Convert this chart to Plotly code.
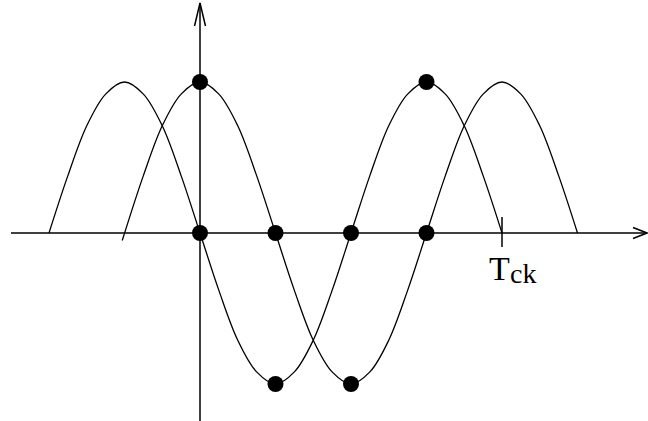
import plotly.graph_objects as go

# Waveform samples every sixteenth of a period (x in quarter-period units)
x_a = [-2, -1.75, -1.5, -1.25, -1, -0.75, -0.5, -0.25, 0, 0.25, 0.5, 0.75, 1,
       1.25, 1.5, 1.75, 2, 2.25, 2.5, 2.75, 3, 3.25, 3.5, 3.75, 4]
y_a = [0, 0.38, 0.71, 0.92, 1, 0.92, 0.71, 0.38, 0, -0.38, -0.71, -0.92, -1,
       -0.92, -0.71, -0.38, 0, 0.38, 0.71, 0.92, 1, 0.92, 0.71, 0.38, 0]

x_b = [-1.03, -0.75, -0.5, -0.25, 0, 0.25, 0.5, 0.75, 1, 1.25, 1.5, 1.75, 2,
       2.25, 2.5, 2.75, 3, 3.25, 3.5, 3.75, 4, 4.25, 4.5, 4.75, 5]
y_b = [-0.05, 0.38, 0.71, 0.92, 1, 0.92, 0.71, 0.38, 0, -0.38, -0.71, -0.92, -1,
       -0.92, -0.71, -0.38, 0, 0.38, 0.71, 0.92, 1, 0.92, 0.71, 0.38, 0]

# Sampling instants marked with dots
x_dots = [0, 0, 1, 2, 3, 1, 2, 3]
y_dots = [1, 0, 0, 0, 0, -1, -1, 1]

# Clock period tick
t_ck = 4

W, H = 648, 421
X0, XS = 200.0, 75.5   # pixel of x=0, pixels per unit
Y0, YS = 233.0, 151.0  # pixel of y=0, pixels per unit

def px_x(p):
    return (p - X0) / XS

def px_y(p):
    return (Y0 - p) / YS

x_range = [px_x(0), px_x(W)]
y_range = [px_y(H), px_y(0)]

line_style = dict(color="black", width=1.3)

fig = go.Figure()
fig.add_trace(go.Scatter(x=x_a, y=y_a, mode="lines", line=dict(shape="spline", **line_style),
                         hoverinfo="skip"))
fig.add_trace(go.Scatter(x=x_b, y=y_b, mode="lines", line=dict(shape="spline", **line_style),
                         hoverinfo="skip"))
fig.add_trace(go.Scatter(x=x_dots, y=y_dots, mode="markers",
                         marker=dict(size=16, color="black"), hoverinfo="skip"))

shapes = []
axis_line = dict(color="black", width=1.5)
# horizontal axis with open arrowhead
shapes.append(dict(type="line", x0=px_x(11), x1=px_x(647), y0=0, y1=0, line=axis_line))
shapes.append(dict(type="path",
                   path=f"M {px_x(633)},{px_y(227.5)} L {px_x(647)},0 L {px_x(633)},{px_y(238.5)}",
                   line=axis_line))
# vertical axis with open arrowhead
shapes.append(dict(type="line", x0=0, x1=0, y0=px_y(421), y1=px_y(3), line=axis_line))
shapes.append(dict(type="path",
                   path=f"M {px_x(194.5)},{px_y(26)} L 0,{px_y(3)} L {px_x(205.5)},{px_y(26)}",
                   line=axis_line))
# period tick
shapes.append(dict(type="line", x0=t_ck, x1=t_ck, y0=px_y(217), y1=px_y(247), line=axis_line))

fig.update_layout(
    width=W, height=H,
    margin=dict(l=0, r=0, t=0, b=0),
    paper_bgcolor="white", plot_bgcolor="white",
    showlegend=False,
    shapes=shapes,
    xaxis=dict(range=x_range, visible=False, fixedrange=True),
    yaxis=dict(range=y_range, visible=False, fixedrange=True),
    annotations=[
        dict(x=px_x(487), y=px_y(268), text="T", showarrow=False, xanchor="left", yanchor="middle",
             font=dict(family="Liberation Serif", size=34, color="black")),
        dict(x=px_x(507.5), y=px_y(273.5), text="ck", showarrow=False, xanchor="left", yanchor="middle",
             font=dict(family="Liberation Serif", size=28, color="black")),
    ],
)

fig.write_html("out.html")
